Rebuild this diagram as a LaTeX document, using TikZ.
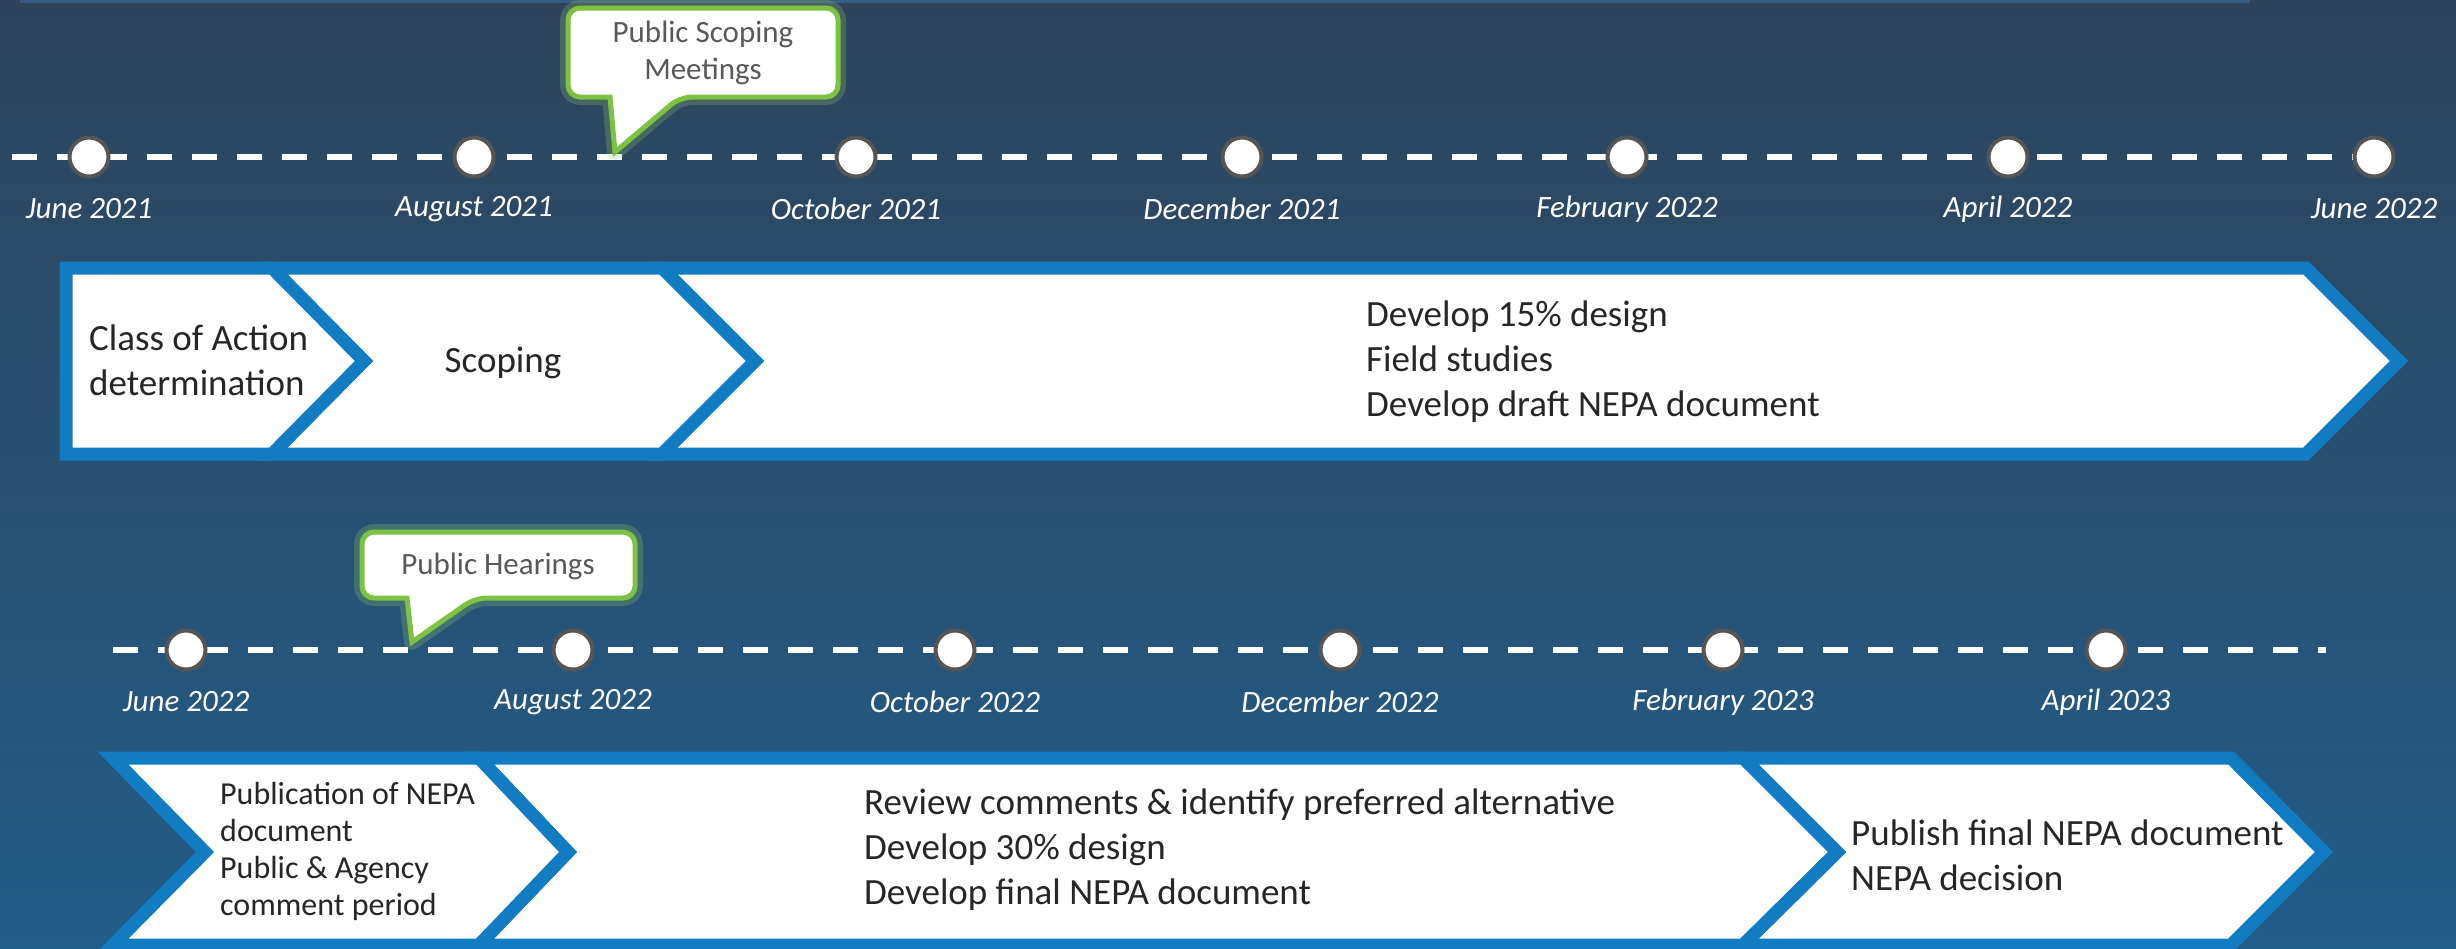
\documentclass[tikz,border=0pt]{standalone}
\usepackage{fontspec}
\setmainfont{Carlito}
\usetikzlibrary{positioning}
\definecolor{bgTopCol}{RGB}{46,68,92}
\definecolor{bgBottomCol}{RGB}{34,92,136}
\definecolor{stripCol}{RGB}{56,92,130}
\definecolor{stageCol}{RGB}{17,124,194}
\definecolor{dotCol}{RGB}{85,85,85}
\definecolor{callCol}{RGB}{125,194,66}
\definecolor{callTextCol}{RGB}{89,89,89}
\definecolor{stageTextCol}{RGB}{38,38,38}
\begin{document}
\begin{tikzpicture}
[x=1pt,y=-1pt,
  dashLine/.style={white,line width=6pt,dash pattern=on 25pt off 20pt},
  dotDecorate/.style={shape=circle,fill=white,draw=dotCol,line width=4pt,minimum size=39pt,inner sep=0pt},
  dateDecorate/.style={text=white,inner sep=0pt,font=\fontsize{31}{37}\selectfont\itshape},
  stageDecorate/.style={fill=white,draw=stageCol,line width=13pt,line join=miter},
  stageText/.style={text=stageTextCol,align=left,anchor=west,inner sep=0pt,font=\fontsize{37}{45}\selectfont},
  glowDecorate/.style={draw=callCol!80!white,line width=16pt,draw opacity=0.25,line join=round},
  callDecorate/.style={fill=white,draw=callCol,line width=5pt},
  callText/.style={text=callTextCol,align=center,inner sep=0pt,font=\fontsize{31}{37}\selectfont}]
\useasboundingbox (0,0) rectangle (2456,948);
%% background
\shade[top color=bgTopCol,bottom color=bgBottomCol] (0,0) rectangle (2456,948);
\fill[stripCol] (20,0) rectangle (2250,3);

%% first timeline
\coordinate (topStart) at (12,157);
\coordinate (topEnd) at (2396,157);
\draw[dashLine] (topStart) -- (topEnd);
\foreach \nodename/\x/\datename in {
  jun21/89/June 2021, aug21/474/August 2021, oct21/856/October 2021,
  dec21/1242/December 2021, feb22/1627/February 2022,
  apr22/2008/April 2022, jun22/2374/June 2022}
{
  \node (\nodename) at (\x,157) [dotDecorate] {};
  \node (\nodename-lab) at (\x,209) [dateDecorate] {\datename};
}

%% second timeline
\coordinate (lowStart) at (113,650);
\coordinate (lowEnd) at (2326,650);
\draw[dashLine] (lowStart) -- (lowEnd);
\foreach \nodename/\x/\datename in {
  jun22b/186/June 2022, aug22/573/August 2022, oct22/955/October 2022,
  dec22/1340/December 2022, feb23/1723/February 2023, apr23/2106/April 2023}
{
  \node (\nodename) at (\x,650) [dotDecorate] {};
  \node (\nodename-lab) at (\x,702) [dateDecorate] {\datename};
}

%% first row of stages
\draw[stageDecorate] (662,268) -- (2306,268) -- (2399,361) -- (2306,454)
  -- (662,454) -- (755,361) -- cycle;
\draw[stageDecorate] (272,268) -- (662,268) -- (755,361) -- (662,454)
  -- (272,454) -- (364,361) -- cycle;
\draw[stageDecorate] (66,268) -- (272,268) -- (364,361) -- (272,454)
  -- (66,454) -- cycle;
\node (actionText) at (89,360) [stageText] {Class of Action\\determination};
\node (scopingText) at (503,363) [stageText,anchor=center] {Scoping};
\node (designText) at (1366,362) [stageText]
  {Develop 15\% design\\Field studies\\Develop draft NEPA document};

%% second row of stages
\draw[stageDecorate] (1743,758) -- (2231,758) -- (2324,852) -- (2231,945)
  -- (1743,945) -- (1837,852) -- cycle;
\draw[stageDecorate] (479,758) -- (1743,758) -- (1837,852) -- (1743,945)
  -- (479,945) -- (568,852) -- cycle;
\draw[stageDecorate] (113,758) -- (479,758) -- (568,852) -- (479,945)
  -- (113,945) -- (205,852) -- cycle;
\node (publicText) at (220,851) [stageText,font=\fontsize{32}{37}\selectfont]
  {Publication of NEPA\\document\\Public \& Agency\\comment period};
\node (reviewText) at (864,850) [stageText]
  {Review comments \& identify preferred alternative\\Develop 30\% design\\Develop final NEPA document};
\node (finalText) at (1851,855) [stageText]
  {Publish final NEPA document\\NEPA decision};

%% callouts
\coordinate (meetTip) at (615,152);
\coordinate (hearTip) at (412,642);
\foreach \deco in {glowDecorate,callDecorate}
{
  \draw[\deco] (590,97) [rounded corners=12pt] -- (568,97) -- (568,8) -- (838,8)
    -- (838,97) -- (680,97) [sharp corners] -- (meetTip) -- (610,97) -- cycle;
  \draw[\deco] (385,598) [rounded corners=12pt] -- (362,598) -- (362,532) -- (635,532)
    -- (635,598) -- (475,598) [sharp corners] -- (hearTip) -- (407,598) -- cycle;
}
\node (meetCall) at (703,53) [callText] {Public Scoping\\Meetings};
\node (hearCall) at (498,566) [callText] {Public Hearings};
\end{tikzpicture}
\end{document}
